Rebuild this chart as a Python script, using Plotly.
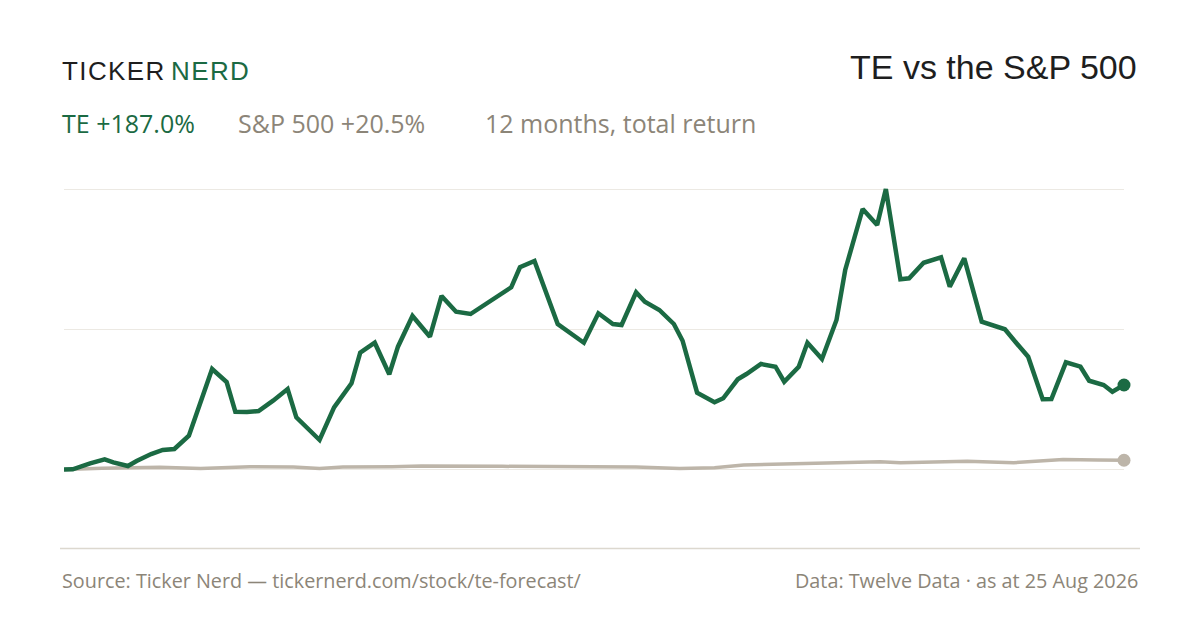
import pandas as pd
import plotly.graph_objects as go

# ---------------- data ----------------
START_DATE = "2025-08-25"

te_day = [0, 3, 9, 14, 17, 22, 25, 30, 34, 38, 43, 46, 51, 56, 59, 63, 67, 72, 77, 80,
          84, 88, 93, 99, 102, 107, 112, 115, 120, 126, 130, 135, 140, 149, 154, 157, 162, 170, 179, 184,
          189, 192, 197, 200, 205, 210, 213, 218, 224, 227, 232, 235, 240, 245, 248, 253, 256, 261, 266, 269,
          275, 280, 283, 288, 291, 296, 302, 305, 310, 316, 324, 328, 332, 337, 340, 345, 350, 353, 358, 361, 365]
te_return = [0, 0.4, 13.7, 22.6, 15.9, 7.7, 18.8, 34.3, 43.2, 45.4,
             74.8, 130.1, 222.4, 193.6, 127.9, 127.2, 129.5, 152.3, 178.1, 115.5,
             91.2, 65.3, 137.6, 190.8, 258.5, 280.6, 210.7, 271.8, 339.7, 293.9,
             384.0, 349.2, 344.1, 381.1, 403.2, 447.5, 461.4, 322.0, 280.6, 345.7,
             322.0, 319.8, 392.1, 371.3, 353.0, 322.0, 285.0, 170.0, 148.7, 157.6,
             199.6, 211.3, 233.5, 227.5, 194.3, 227.5, 280.6, 244.5, 330.8, 441.5,
             576.5, 541.1, 620.7, 420.9, 423.1, 457.6, 469.6, 404.5, 467.4, 327.1,
             310.3, 279.3, 249.6, 155.4, 156.0, 237.2, 227.5, 196.5, 187.0, 172.2, 187.0]

sp_day = [0, 13, 33, 47, 64, 79, 88, 96, 113, 123, 151, 180, 197, 212, 224, 234, 247, 258,
          281, 288, 304, 311, 327, 344, 356, 365]
sp_return = [0, 3, 5, 2, 6, 5.5, 2.5, 5.5, 6, 7.5, 7, 7, 5.5, 2, 4, 10, 12, 14.5,
             17, 15, 16, 18, 15, 22, 21, 20.5]

TITLE = "TE vs the S&P 500"
BRAND_A = "TICKER"
BRAND_B = "NERD"
TE_LABEL = "TE +187.0%"
SP_LABEL = "S&P 500 +20.5%"
PERIOD_LABEL = "12 months, total return"
SOURCE = "Source: Ticker Nerd — tickernerd.com/stock/te-forecast/"
DATA_NOTE = "Data: Twelve Data · as at 25 Aug 2026"

# ---------------- styling ----------------
GREEN = "#1b6a43"
GREY_LINE = "#bdb5a9"
GREY_TEXT = "#8c8578"
DARK = "#1e1e1e"
GRID = "#ece9e3"
FONT = "Liberation Sans, Arial, sans-serif"
FONT2 = "Open Sans, sans-serif"

OFF = 8                      # page offset of the figure (body margin)
W, H = 1200 - OFF, 630 - OFF
L, R, T, B = 64 - OFF, 76, 170 - OFF, 90
PW, PH = W - L - R, H - T - B


def px(x):
    return (x - OFF - L) / PW


def py(y):
    return (H - B - (y - OFF)) / PH


start = pd.Timestamp(START_DATE)
te_dates = start + pd.to_timedelta(te_day, unit="D")
sp_dates = start + pd.to_timedelta(sp_day, unit="D")

te_max = max(te_return)
tick_vals = [0, te_max / 2, te_max]

fig = go.Figure()

fig.add_trace(go.Scatter(
    x=sp_dates, y=sp_return, mode="lines",
    line=dict(color=GREY_LINE, width=3.5), hoverinfo="skip", cliponaxis=False,
))
fig.add_trace(go.Scatter(
    x=[sp_dates[-1]], y=[sp_return[-1]], mode="markers",
    marker=dict(color=GREY_LINE, size=13), hoverinfo="skip", cliponaxis=False,
))
fig.add_trace(go.Scatter(
    x=te_dates, y=te_return, mode="lines",
    line=dict(color=GREEN, width=4.5), hoverinfo="skip", cliponaxis=False,
))
fig.add_trace(go.Scatter(
    x=[te_dates[-1]], y=[te_return[-1]], mode="markers",
    marker=dict(color=GREEN, size=13), hoverinfo="skip", cliponaxis=False,
))

ann = []
ann.append(dict(
    x=px(60), y=py(71), xref="paper", yref="paper", xanchor="left", yanchor="middle",
    text=f"<span style='letter-spacing:1.4px'>{BRAND_A}</span>",
    showarrow=False, font=dict(family=FONT, size=26, color=DARK),
))
ann.append(dict(
    x=px(169), y=py(71), xref="paper", yref="paper", xanchor="left", yanchor="middle",
    text=f"<span style='letter-spacing:1.4px'>{BRAND_B}</span>",
    showarrow=False, font=dict(family=FONT, size=26, color=GREEN),
))
ann.append(dict(
    x=px(1139), y=py(67), xref="paper", yref="paper", xanchor="right", yanchor="middle",
    text=TITLE, showarrow=False, font=dict(family=FONT, size=34, color=DARK),
))
for label, x0, col in [(TE_LABEL, 60, GREEN), (SP_LABEL, 236, GREY_TEXT), (PERIOD_LABEL, 483, GREY_TEXT)]:
    ann.append(dict(
        x=px(x0), y=py(123), xref="paper", yref="paper", xanchor="left", yanchor="middle",
        text=label, showarrow=False, font=dict(family=FONT2, size=25, color=col),
    ))
ann.append(dict(
    x=px(60), y=py(580), xref="paper", yref="paper", xanchor="left", yanchor="middle",
    text=SOURCE, showarrow=False, font=dict(family=FONT2, size=19.8, color=GREY_TEXT),
))
ann.append(dict(
    x=px(1140), y=py(580), xref="paper", yref="paper", xanchor="right", yanchor="middle",
    text=DATA_NOTE, showarrow=False, font=dict(family=FONT2, size=19.8, color=GREY_TEXT),
))

fig.update_layout(
    width=W, height=H,
    margin=dict(l=L, r=R, t=T, b=B),
    paper_bgcolor="white", plot_bgcolor="white",
    showlegend=False,
    annotations=ann,
    shapes=[dict(type="line", xref="paper", yref="paper",
                 x0=px(60), x1=px(1140), y0=py(548.5), y1=py(548.5),
                 line=dict(color="#dcd8cf", width=1.5))],
    xaxis=dict(range=[te_dates[0], te_dates[-1]], showgrid=False, zeroline=False,
               showticklabels=False, ticks="", showline=False, fixedrange=True),
    yaxis=dict(range=[-156, 662.8], tickvals=tick_vals, showgrid=True, gridcolor=GRID,
               gridwidth=1.2, zeroline=False, showticklabels=False, ticks="", showline=False,
               fixedrange=True),
)

fig.write_html("out.html", config={"displayModeBar": False})
